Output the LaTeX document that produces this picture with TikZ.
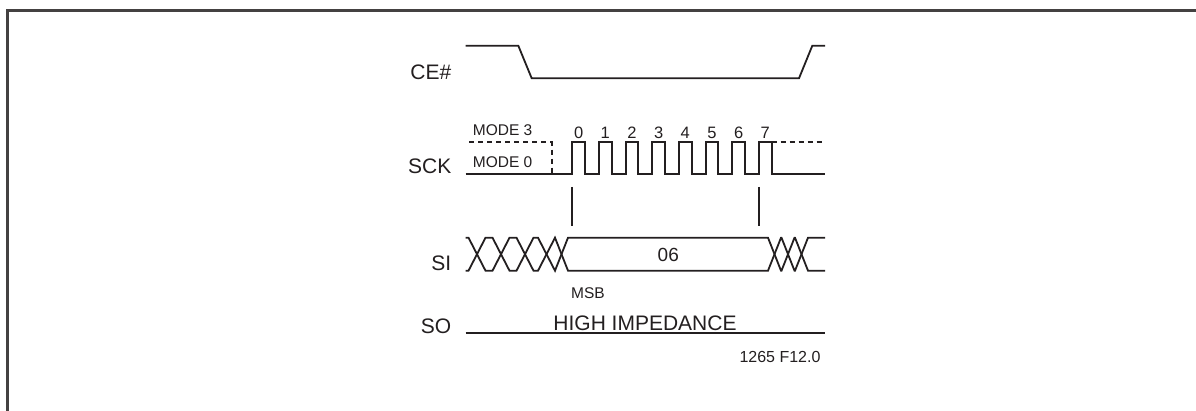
\documentclass[tikz,border=0pt]{standalone}
\usepackage{fontspec}
\setmainfont{Liberation Sans}
\definecolor{ink}{HTML}{231F20}
\begin{document}
\begin{tikzpicture}[x=1pt,y=-1pt,
  sig/.style={draw=ink,line width=1.8pt,line join=miter},
  dsig/.style={draw=ink,line width=1.8pt,dash pattern=on 5pt off 4pt},
  big/.style={inner sep=0pt,text=ink,font=\fontsize{21}{24}\selectfont},
  mid/.style={inner sep=0pt,text=ink,font=\fontsize{16.5}{19}\selectfont},
  small/.style={inner sep=0pt,text=ink,font=\fontsize{15.5}{18}\selectfont}]
\useasboundingbox (0,0) rectangle (1196,411);
% frame
\draw[draw=ink!85,line width=2.2pt] (7.5,411) -- (7.5,10.5) -- (1196,10.5);
% labels
\node[big,anchor=base east] (ce) at (451.5,79.2) {CE\#};
\node[big,anchor=base east] (sck) at (451.5,174) {SCK};
\node[big,anchor=base east] (si) at (451.5,270.5) {SI};
\node[big,anchor=base east] (so) at (451.5,333.5) {SO};
% CE#
\draw[sig] (465.7,45.7) -- (518.3,45.7) -- (531.7,78.3) -- (799,78.3) -- (812.3,45.7) -- (825,45.7);
% SCK
\draw[sig] (465.7,174) -- (572.3,174)
  \foreach \k in {0,...,7}{ -- ({572.3+26.67*\k},174) -- ({572.3+26.67*\k},142.3) -- ({585+26.67*\k},142.3) -- ({585+26.67*\k},174)}
  -- (825,174);
\draw[dsig] (469,142.3) -- (551.7,142.3) -- (551.7,174);
\draw[dsig] (771.7,142.3) -- (822,142.3);
\node[small,anchor=base west] (m3) at (472.7,135.4) {MODE 3};
\node[small,anchor=base west] (m0) at (472.7,168) {MODE 0};
\foreach \k in {0,...,7}{
  \node[mid,anchor=base] (n\k) at ({578.6+26.67*\k},138.2) {\k};
}
% ticks
\draw[sig] (572.3,187) -- (572.3,225.7);
\draw[sig] (759,187) -- (759,225.7);
% SI bus
\def\yT{237.7}\def\yB{270.7}\def\hwid{6.5}\def\hj{8.5}
\draw[sig] (465.7,\yT)
  -- (477-\hj,\yT) -- (477+\hj,\yB)
  -- (501-\hj,\yB) -- (501+\hj,\yT)
  -- (525-\hj,\yT) -- (525+\hj,\yB)
  -- (546.5-\hj,\yB) -- (546.5+\hj,\yT)
  -- (561.5-\hwid,\yT) -- (561.5+\hwid,\yB)
  -- (774.5-\hwid,\yB) -- (774.5+\hwid,\yT)
  -- (788-\hwid,\yT) -- (788+\hwid,\yB)
  -- (801.5-\hwid,\yB) -- (801.5+\hwid,\yT)
  -- (825,\yT);
\draw[sig] (465.7,\yB)
  -- (477-\hj,\yB) -- (477+\hj,\yT)
  -- (501-\hj,\yT) -- (501+\hj,\yB)
  -- (525-\hj,\yB) -- (525+\hj,\yT)
  -- (546.5-\hj,\yT) -- (546.5+\hj,\yB)
  -- (561.5-\hwid,\yB) -- (561.5+\hwid,\yT)
  -- (774.5-\hwid,\yT) -- (774.5+\hwid,\yB)
  -- (788-\hwid,\yB) -- (788+\hwid,\yT)
  -- (801.5-\hwid,\yT) -- (801.5+\hwid,\yB)
  -- (825,\yB);
\node[big,font=\fontsize{19}{22}\selectfont,anchor=base] (data) at (668.3,261.8) {06};
\node[small,anchor=base west] (msb) at (571,298.3) {MSB};
% SO
\draw[sig] (465.7,333.3) -- (825,333.3);
\node[big,anchor=base] (hi) at (645,330.2) {HIGH IMPEDANCE};
\node[small,font=\fontsize{16}{19}\selectfont,anchor=base east] (fig) at (820.7,362.4) {1265 F12.0};
\end{tikzpicture}
\end{document}
